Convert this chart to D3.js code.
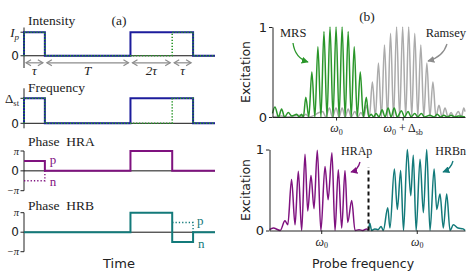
<!DOCTYPE html>
<html>
<head>
<meta charset="utf-8">
<script src="https://cdn.jsdelivr.net/npm/d3@7"></script>
<style>
body { margin: 0; background: #fff; }
.serif { font-family: "Liberation Serif", "DejaVu Serif", serif; }
.sans { font-family: "DejaVu Sans", sans-serif; }
</style>
</head>
<body>
<div id="chart"></div>
<script>
// ---------- data : pulse sequences (time in units of tau) ----------
const tEnd = 9.15;
const mrsIntensity = [[0,0],[0,1],[1,1],[1,0],[5.1,0],[5.1,1],[8.1,1],[8.1,0],[tEnd,0]];
const ramseyIntensity = [[0,0],[0,1],[1,1],[1,0],[7.1,0],[7.1,1],[8.1,1],[8.1,0],[tEnd,0]];
const mrsFrequency = mrsIntensity;
const ramseyFrequency = ramseyIntensity;
// phases in units of pi
const hraP = [[0,0.5],[1,0.5],[1,0],[5.1,0],[5.1,1],[7.1,1],[7.1,0],[tEnd,0]];
const hraN = [[0,-0.5],[1,-0.5],[1,0]];
const hrbN = [[0,0],[5.1,0],[5.1,1],[7.1,1],[7.1,-0.5],[8.1,-0.5],[8.1,0],[tEnd,0]];
const hrbP = [[7.1,0.5],[8.1,0.5],[8.1,0]];
const spans = [[0,1],[1,5.1],[5.1,7.1],[7.1,8.1]];
const spanLabels = ["τ","T","2τ","τ"];

// ---------- data : spectra (detuning in fringe units, excitation) ----------
const mrsSpectrum = [
  [-10.5,0.04],[-10.1,0.11],[-9.5,0],[-9,0.09],[-8.5,0],[-7.9,0.05],[-7.3,0.01],[-6.5,0.03],[-6.1,0],[-5.7,0.03],[-5.4,0],
  [-5,0.22],[-4.5,0],[-4,0.5],[-3.5,0],[-3,0.78],[-2.5,0],[-2,0.95],[-1.5,0],[-1,1],[-0.5,0],[0,1],
  [0.5,0],[1,1],[1.5,0],[2,0.95],[2.5,0],[3,0.78],[3.5,0],[4,0.5],[4.5,0],[5,0.22],[5.4,0],
  [5.8,0.03],[6.2,0],[6.6,0.04],[7.1,0],[7.6,0.08],[8.1,0],[8.6,0.1],[9.1,0],[9.6,0.1],[10.1,0],[10.8,0.07],[11.3,0],
  [11.9,0.06],[12.4,0],[13,0.04],[13.5,0],[14.1,0.04],[14.6,0],[15.5,0.02],[16.2,0],[16.7,0.03],[17.3,0],[17.8,0.02],
  [18.4,0],[19,0.02],[19.6,0],[20.2,0.01],[21.3,0]
];
const ramseySpectrum = [
  [-10.5,0],[-9,0.01],[-8,0],[-6,0.02],[-5.5,0],[-5,0.03],[-4.5,0],[-2.2,0.06],[-1.7,0],[-1.1,0.1],[-0.6,0],[0,0.1],
  [0.5,0],[1,0.1],[1.5,0],[2,0.09],[2.5,0],[3.1,0.06],[3.6,0],[4.1,0.05],[4.6,0],
  [5,0.13],[5.5,0],[6,0.39],[6.5,0],[7,0.6],[7.5,0],[8,0.8],[8.5,0],[9,0.93],[9.5,0],[10,1],[10.5,0],[11,1],
  [11.5,0],[12,1],[12.5,0],[13,0.93],[13.5,0],[14,0.8],[14.5,0],[15,0.6],[15.5,0],[16,0.39],[16.5,0],[17,0.13],[17.5,0],
  [18,0.1],[18.5,0],[19,0.05],[19.5,0],[20.2,0.06],[20.7,0],[21.1,0.1],[21.3,0.06]
];
const hraSpectrum = [
  [-8.2,0.01],[-7.6,0.03],[-6.5,0],[-5.75,0.12],[-5.3,0.07],[-4.7,0.63],[-4.15,0.07],[-3.63,0.73],[-3.1,0],
  [-2.57,0.94],[-2.14,0.24],[-1.62,0.68],[-1.14,0.27],[-0.62,0.99],[-0.05,0],[0.6,0.79],[1.1,0.38],[1.7,0.96],
  [2.19,0],[2.71,0.75],[3.25,0.03],[3.77,0.74],[4.2,0.1],[4.84,0.37],[5.36,0],[6,0.01],[6.6,0],[7.2,0.02],[7.5,0]
];
const hrbSpectrum = [
  [7.5,0],[7.7,0.09],[8,0],[8.5,0.02],[9,0.01],[9.5,0.05],[9.85,0],[10.55,0.28],[10.9,0.03],[11.6,0.76],[12.07,0.26],
  [12.6,0.74],[13.05,0],[13.65,1],[14.2,0.43],[14.6,0.93],[15.05,0],[15.67,0.88],[16.2,0.22],[16.73,1],[17.25,0],
  [17.9,0.76],[18.32,0.26],[18.84,0.45],[19.36,0.03],[19.9,0.45],[20.43,0],[20.95,0.07],[21.7,0.03],[22.5,0.02],[22.8,0]
];

const blue = "#1c1c9c", green = "#2a962a", grey = "#ababab", purple = "#7f127f", teal = "#137a7a", arrowGrey = "#8c8c8c";

const width = 469, height = 272;
const svg = d3.select("#chart").append("svg")
  .attr("width", width).attr("height", height);

const defs = svg.append("defs");
function marker(id, color) {
  defs.append("marker").attr("id", id)
    .attr("viewBox", "0 0 10 10").attr("refX", 9).attr("refY", 5)
    .attr("markerWidth", 7).attr("markerHeight", 7).attr("markerUnits", "userSpaceOnUse")
    .attr("orient", "auto")
    .append("path").attr("d", "M0,0 L10,5 L0,10 Z").attr("fill", color);
}
marker("m-green", green);
marker("m-grey", arrowGrey);
marker("m-purple", purple);
marker("m-teal", teal);

// ================= panel (a) =================
const x = d3.scaleLinear().domain([0, tEnd]).range([24, 215]);

function pulseAxes(yDomain, yRange, ticks, title, titleY) {
  const y = d3.scaleLinear().domain(yDomain).range(yRange);
  const g = svg.append("g");
  g.append("line").attr("x1", 24).attr("x2", 24)
    .attr("y1", yRange[0]).attr("y2", yRange[1])
    .attr("stroke", "#222").attr("stroke-width", 1);
  ticks.forEach(t => {
    g.append("line").attr("x1", 20.5).attr("x2", 24)
      .attr("y1", y(t.v)).attr("y2", y(t.v)).attr("stroke", "#222");
    const txt = g.append("text").attr("x", 19).attr("y", y(t.v))
      .attr("text-anchor", "end").attr("dy", "0.35em").attr("fill", "#222");
    t.draw(txt);
  });
  g.append("line").attr("x1", x(0)).attr("x2", x(tEnd))
    .attr("y1", y(0)).attr("y2", y(0)).attr("stroke", "#111").attr("stroke-width", 1);
  svg.append("text").attr("class", "serif").attr("x", 28).attr("y", titleY)
    .attr("font-size", 13.5).attr("fill", "#222").attr("xml:space", "preserve").text(title);
  return y;
}

const zeroTick = v => ({v: v, draw: t => t.attr("class", "sans").attr("font-size", 12).text("0")});
const piTick = (v, s) => ({v: v, draw: t => t.attr("class", "serif").attr("font-size", 10.5).attr("font-style", "italic").text(s)});

const line = (xs, ys) => d3.line().x(d => xs(d[0])).y(d => ys(d[1]));

// Intensity
const yI = pulseAxes([-0.52, 1.2], [68, 27.5], [
  zeroTick(0),
  {v: 1, draw: t => { t.attr("class", "serif").attr("font-size", 13);
    t.append("tspan").attr("font-style", "italic").text("I");
    t.append("tspan").attr("font-style", "italic").attr("font-size", 9).attr("dy", 3).text("p"); }}
], "Intensity", 25);
svg.append("path").attr("d", line(x, yI)(mrsIntensity))
  .attr("fill", "none").attr("stroke", blue).attr("stroke-width", 2);
svg.append("path").attr("d", line(x, yI)(ramseyIntensity))
  .attr("fill", "none").attr("stroke", green).attr("stroke-width", 1.6).attr("stroke-dasharray", "1.3,1.7");

spans.forEach((s, i) => {
  const y0 = yI(-0.3);
  svg.append("line").attr("x1", x(s[0]) + 2).attr("x2", x(s[1]) - 2)
    .attr("y1", y0).attr("y2", y0).attr("stroke", arrowGrey).attr("stroke-width", 1.2);
  [[x(s[0]) + 2, 1], [x(s[1]) - 2, -1]].forEach(([px, dir]) => {
    svg.append("path").attr("d", `M${px + dir * 5},${y0 - 3}L${px},${y0}L${px + dir * 5},${y0 + 3}`)
      .attr("fill", "none").attr("stroke", arrowGrey).attr("stroke-width", 1.2);
  });
  svg.append("text").attr("class", "serif").attr("x", (x(s[0]) + x(s[1])) / 2).attr("y", 75)
    .attr("text-anchor", "middle").attr("font-size", 13).attr("font-style", "italic")
    .attr("fill", "#222").text(spanLabels[i]);
});
svg.append("text").attr("class", "serif").attr("x", 119).attr("y", 25)
  .attr("text-anchor", "middle").attr("font-size", 13.5).attr("fill", "#222").text("(a)");

// Frequency
const yF = pulseAxes([-0.2, 1.4], [128.3, 88.3], [
  zeroTick(0),
  {v: 1, draw: t => { t.attr("class", "serif").attr("font-size", 13);
    t.append("tspan").text("Δ");
    t.append("tspan").attr("font-size", 8.5).attr("dy", 3).text("st"); }}
], "Frequency", 91.5);
svg.append("path").attr("d", line(x, yF)(mrsFrequency))
  .attr("fill", "none").attr("stroke", blue).attr("stroke-width", 2);
svg.append("path").attr("d", line(x, yF)(ramseyFrequency))
  .attr("fill", "none").attr("stroke", green).attr("stroke-width", 1.6).attr("stroke-dasharray", "1.3,1.7");

// Phase HRA
const yA = pulseAxes([-1, 1], [190.7, 151], [zeroTick(0), piTick(1, "π"), piTick(-1, "−π")], "Phase  HRA", 146);
svg.append("path").attr("d", line(x, yA)(hraP))
  .attr("fill", "none").attr("stroke", purple).attr("stroke-width", 2);
svg.append("path").attr("d", line(x, yA)(hraN))
  .attr("fill", "none").attr("stroke", purple).attr("stroke-width", 1.4).attr("stroke-dasharray", "1.3,2");
svg.append("text").attr("class", "serif").attr("x", x(1) + 5).attr("y", yA(0.5) + 3)
  .attr("font-size", 13).attr("fill", purple).text("p");
svg.append("text").attr("class", "serif").attr("x", x(1) + 5).attr("y", yA(-0.5) + 5)
  .attr("font-size", 13).attr("fill", purple).text("n");

// Phase HRB
const yB = pulseAxes([-1, 1], [251.7, 212.7], [zeroTick(0), piTick(1, "π"), piTick(-1, "−π")], "Phase  HRB", 209.5);
svg.append("path").attr("d", line(x, yB)(hrbN))
  .attr("fill", "none").attr("stroke", teal).attr("stroke-width", 2);
svg.append("path").attr("d", line(x, yB)(hrbP))
  .attr("fill", "none").attr("stroke", teal).attr("stroke-width", 1.4).attr("stroke-dasharray", "1.3,2");
svg.append("text").attr("class", "serif").attr("x", x(8.1) + 4).attr("y", yB(0.5) + 3)
  .attr("font-size", 13).attr("fill", teal).text("p");
svg.append("text").attr("class", "serif").attr("x", x(8.1) + 5).attr("y", yB(-0.5) + 6)
  .attr("font-size", 13).attr("fill", teal).text("n");

svg.append("text").attr("class", "sans").attr("x", 119).attr("y", 268)
  .attr("text-anchor", "middle").attr("font-size", 13).attr("fill", "#222").text("Time");

// ================= panel (b) =================
function omegaLabel(sel, withShift) {
  sel.text(null).attr("class", "serif").attr("font-size", 12).attr("fill", "#222");
  sel.append("tspan").attr("font-style", "italic").text("ω");
  sel.append("tspan").attr("font-size", 8).attr("dy", 2.5).text("0");
  if (withShift) {
    sel.append("tspan").attr("dy", -2.5).attr("xml:space", "preserve").text(" + ");
    sel.append("tspan").text("Δ");
    sel.append("tspan").attr("font-size", 8).attr("dy", 2.5).text("sb");
  }
}

function spectrumAxes(xs, ys, tickVals, tickShift) {
  const g = svg.append("g");
  g.append("g").attr("transform", `translate(${xs.range()[0]},0)`)
    .call(d3.axisLeft(ys).tickValues([0, 1]).tickFormat(d3.format("d"))
      .tickSize(3.5).tickSizeOuter(0).tickPadding(2))
    .call(a => a.selectAll("text").attr("class", "sans").attr("font-size", 13).attr("fill", "#222"));
  g.append("g").attr("transform", `translate(0,${ys.range()[0]})`)
    .call(d3.axisBottom(xs).tickValues(tickVals).tickSize(3.5).tickSizeOuter(0).tickPadding(3))
    .call(a => a.selectAll(".tick text").each(function(d, i) { omegaLabel(d3.select(this), tickShift[i]); }));
  g.selectAll(".domain, .tick line").attr("stroke", "#222");
}

// top spectra
const xT = d3.scaleLinear().domain([-10.5, 21.3]).range([272.5, 465]);
const yT = d3.scaleLinear().domain([0, 1]).range([117, 27]);
const specLine = (xs, ys) => d3.line().curve(d3.curveMonotoneX).x(d => xs(d[0])).y(d => ys(d[1]));
svg.append("path").attr("d", specLine(xT, yT)(ramseySpectrum))
  .attr("fill", "none").attr("stroke", grey).attr("stroke-width", 1.5);
svg.append("path").attr("d", specLine(xT, yT)(mrsSpectrum))
  .attr("fill", "none").attr("stroke", green).attr("stroke-width", 1.5);
spectrumAxes(xT, yT, [0, 11], [false, true]);

svg.append("text").attr("class", "sans").attr("transform", `translate(250,${(yT(0) + yT(1)) / 2}) rotate(-90)`)
  .attr("text-anchor", "middle").attr("font-size", 12.5).attr("fill", "#222").text("Excitation");
svg.append("text").attr("class", "serif").attr("x", 367).attr("y", 21)
  .attr("text-anchor", "middle").attr("font-size", 13.5).attr("fill", "#222").text("(b)");
svg.append("text").attr("class", "serif").attr("x", 280).attr("y", 37)
  .attr("font-size", 12.5).attr("fill", "#222").text("MRS");
svg.append("text").attr("class", "serif").attr("x", 466).attr("y", 37)
  .attr("text-anchor", "end").attr("font-size", 12.5).attr("fill", "#222").text("Ramsey");
svg.append("path").attr("d", "M293,43 Q295,58 308,62").attr("fill", "none")
  .attr("stroke", green).attr("stroke-width", 1.3).attr("marker-end", "url(#m-green)");
svg.append("path").attr("d", "M447,44 Q443,57 428,61").attr("fill", "none")
  .attr("stroke", arrowGrey).attr("stroke-width", 1.3).attr("marker-end", "url(#m-grey)");

// bottom spectra
const xB = d3.scaleLinear().domain([-8.2, 22.8]).range([269.5, 465]);
const yBt = d3.scaleLinear().domain([0, 1]).range([230.5, 149.5]);
svg.append("path").attr("d", specLine(xB, yBt)(hraSpectrum))
  .attr("fill", "none").attr("stroke", purple).attr("stroke-width", 1.5);
svg.append("path").attr("d", specLine(xB, yBt)(hrbSpectrum))
  .attr("fill", "none").attr("stroke", teal).attr("stroke-width", 1.5);
svg.append("line").attr("x1", xB(7.5)).attr("x2", xB(7.5))
  .attr("y1", yBt(0)).attr("y2", yBt(0.78))
  .attr("stroke", "#111").attr("stroke-width", 2).attr("stroke-dasharray", "4,3");
spectrumAxes(xB, yBt, [0, 15.15], [false, false]);

svg.append("text").attr("class", "sans").attr("transform", `translate(250,${(yBt(0) + yBt(1)) / 2}) rotate(-90)`)
  .attr("text-anchor", "middle").attr("font-size", 12.5).attr("fill", "#222").text("Excitation");
svg.append("text").attr("class", "sans").attr("x", 363).attr("y", 268)
  .attr("text-anchor", "middle").attr("font-size", 12.5).attr("fill", "#222").text("Probe frequency");
svg.append("text").attr("class", "serif").attr("x", 341).attr("y", 155)
  .attr("font-size", 12).attr("fill", "#222").text("HRAp");
svg.append("text").attr("class", "serif").attr("x", 466).attr("y", 155)
  .attr("text-anchor", "end").attr("font-size", 12).attr("fill", "#222").text("HRBn");
svg.append("path").attr("d", "M360,162 Q358,170 351,172").attr("fill", "none")
  .attr("stroke", purple).attr("stroke-width", 1.3).attr("marker-end", "url(#m-purple)");
svg.append("path").attr("d", "M453,161 Q451,169 443,172").attr("fill", "none")
  .attr("stroke", teal).attr("stroke-width", 1.3).attr("marker-end", "url(#m-teal)");
</script>
</body>
</html>
